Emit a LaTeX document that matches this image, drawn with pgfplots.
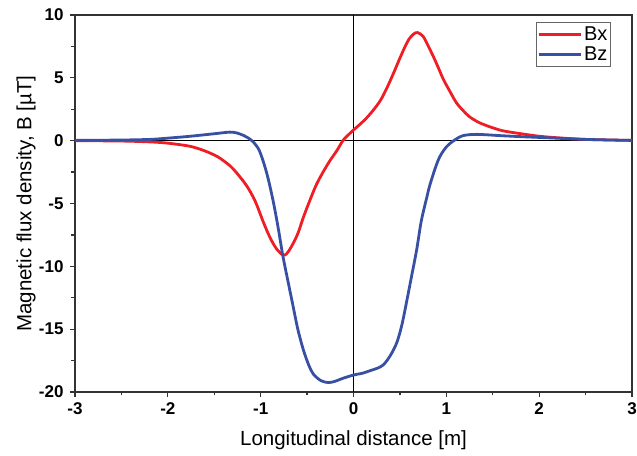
\documentclass[border=0pt]{standalone}
\usepackage{fontspec}
\setmainfont{Liberation Sans}
\usepackage{pgfplots}
\pgfplotsset{compat=1.18}

\definecolor{bxred}{RGB}{238,30,36}
\definecolor{bzblue}{RGB}{56,80,164}

\pgfplotstableread{
x y
-3.00 0.00
-2.50 -0.03
-2.19 -0.10
-2.00 -0.20
-1.76 -0.45
-1.60 -0.82
-1.47 -1.25
-1.40 -1.60
-1.33 -2.00
-1.26 -2.55
-1.15 -3.60
-1.06 -4.80
-0.97 -6.50
-0.90 -7.70
-0.83 -8.60
-0.76 -9.10
-0.72 -9.00
-0.67 -8.45
-0.60 -7.40
-0.54 -6.10
-0.47 -4.75
-0.40 -3.50
-0.32 -2.40
-0.25 -1.55
-0.18 -0.80
-0.11 0.05
-0.05 0.50
0.00 0.85
0.07 1.30
0.14 1.80
0.21 2.40
0.29 3.20
0.36 4.20
0.43 5.35
0.49 6.40
0.55 7.40
0.60 8.10
0.65 8.50
0.69 8.60
0.75 8.30
0.80 7.60
0.86 6.70
0.92 5.70
0.97 4.85
1.04 3.90
1.11 3.00
1.18 2.40
1.25 1.90
1.35 1.45
1.47 1.10
1.60 0.80
1.76 0.60
2.00 0.35
2.12 0.27
2.50 0.10
3.00 0.02
}\bxdata

\pgfplotstableread{
x y
-3.00 0.02
-2.50 0.05
-2.19 0.10
-2.00 0.20
-1.76 0.35
-1.50 0.55
-1.33 0.68
-1.25 0.60
-1.18 0.40
-1.12 0.15
-1.08 -0.10
-1.02 -0.70
-0.97 -1.70
-0.92 -3.00
-0.86 -5.00
-0.81 -7.00
-0.76 -9.20
-0.70 -11.40
-0.65 -13.20
-0.60 -15.00
-0.54 -16.65
-0.48 -17.90
-0.43 -18.60
-0.35 -19.10
-0.27 -19.25
-0.20 -19.15
-0.11 -18.90
0.00 -18.65
0.10 -18.50
0.18 -18.30
0.26 -18.10
0.32 -17.85
0.37 -17.40
0.42 -16.80
0.47 -16.00
0.52 -14.70
0.57 -12.90
0.62 -11.00
0.68 -8.70
0.73 -6.40
0.79 -4.50
0.82 -3.60
0.88 -2.20
0.93 -1.27
1.00 -0.50
1.08 0.00
1.18 0.40
1.33 0.50
1.58 0.40
1.80 0.32
2.12 0.22
2.50 0.10
3.00 0.02
}\bzdata

\begin{document}
\begin{tikzpicture}
  \begin{axis}[
      scale only axis,
      width=557pt, height=377pt,
      xmin=-3, xmax=3, ymin=-20, ymax=10,
      xtick={-3,-2,...,3}, ytick={-20,-15,...,10},
      minor x tick num=1, minor y tick num=1,
      tick pos=left, tick align=outside,
      major tick length=5pt, minor tick length=3.5pt,
      axis line style={line width=1.3pt, black!80},
      every tick/.style={line width=1.3pt, black!80},
      /pgf/number format/assume math mode=true,
      ticklabel style={font=\fontsize{17}{20}\selectfont\bfseries},
      xticklabel style={yshift=-2pt},
      yticklabel style={xshift=-3pt},
      xlabel={Longitudinal distance [m]},
      ylabel={Magnetic flux density, B [µT]},
      every axis x label/.style={at={(axis description cs:0.5,-0.127)}, anchor=center,
        font=\fontsize{20.5}{24}\selectfont},
      every axis y label/.style={at={(axis description cs:-0.088,0.5)}, anchor=center, rotate=90,
        font=\fontsize{20.5}{24}\selectfont},
      legend style={at={(axis description cs:0.962,0.981)}, anchor=north east,
        draw=black!60, line width=0.8pt, font=\fontsize{20}{22}\selectfont,
        inner xsep=1pt, inner ysep=2pt, row sep=1pt},
      legend cell align=left,
      legend image code/.code={\draw[#1, line width=2.8pt] (0pt,0pt) -- (42pt,0pt);},
    ]
    \addplot[black, line width=1.2pt, forget plot] coordinates {(-3,0) (3,0)};
    \addplot[black, line width=1.2pt, forget plot] coordinates {(0,-20) (0,10)};
    \addplot[bxred, line width=2.8pt, smooth] table[x=x, y=y] {\bxdata};
    \addplot[bzblue, line width=2.8pt, smooth] table[x=x, y=y] {\bzdata};
    \legend{Bx, Bz}
  \end{axis}
  \pgfresetboundingbox
  \path (current axis.south west) ++(-75pt,-64pt) coordinate (bbsw);
  \path (current axis.north east) ++(5pt,15pt) coordinate (bbne);
  \useasboundingbox (bbsw) rectangle (bbne);
\end{tikzpicture}
\end{document}
